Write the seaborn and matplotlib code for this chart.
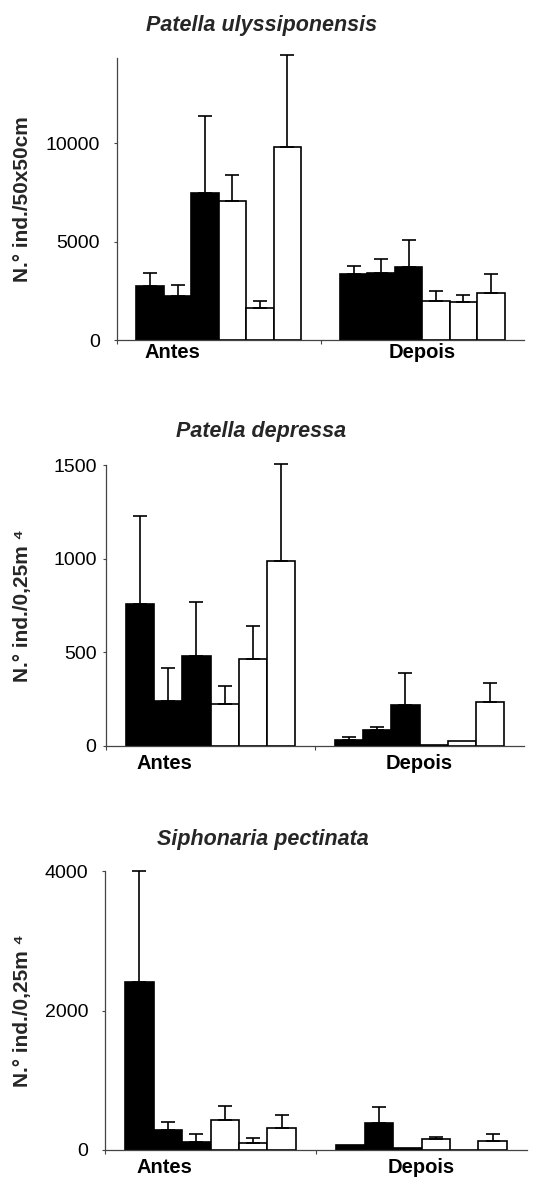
import numpy as np
import pandas as pd
import matplotlib
matplotlib.use("Agg")
import matplotlib.pyplot as plt
import matplotlib.transforms as mtransforms
import seaborn as sns

# ---- data -------------------------------------------------------------
periods = ["Antes", "Depois"]
sites = ["S1", "S2", "S3", "S4", "S5", "S6"]
site_colors = ["black", "black", "black", "white", "white", "white"]

# Patella ulyssiponensis (N.º ind./50x50cm)
ulyss_antes = [2750, 2240, 7490, 7070, 1610, 9780]
ulyss_depois = [3360, 3390, 3730, 2000, 1915, 2410]
ulyss_err_antes = [640, 560, 3870, 1290, 360, 4680]
ulyss_err_depois = [400, 730, 1350, 490, 375, 960]

# Patella depressa (N.º ind./0,25m)
depr_antes = [756, 242, 480, 222, 463, 988]
depr_depois = [32, 85, 217, 8, 25, 237]
depr_err_antes = [472, 173, 289, 98, 176, 517]
depr_err_depois = [18, 18, 171, 0, 0, 98]

# Siphonaria pectinata (N.º ind./0,25m)
siph_antes = [2406, 286, 119, 430, 95, 320]
siph_depois = [72, 391, 35, 158, 5, 127]
siph_err_antes = [1594, 115, 110, 200, 82, 181]
siph_err_depois = [0, 220, 0, 23, 0, 105]

titles = ["Patella ulyssiponensis", "Patella depressa", "Siphonaria pectinata"]
ylabels = ["N.° ind./50x50cm", "N.° ind./0,25m ⁴", "N.° ind./0,25m ⁴"]
yticks = [[0, 5000, 10000], [0, 500, 1000, 1500], [0, 2000, 4000]]
ymax = [14320, 1500, 4000]


def make_frame(antes, depois, err_antes, err_depois):
    rows = []
    for period, vals, errs in (("Antes", antes, err_antes),
                               ("Depois", depois, err_depois)):
        for site, v, e in zip(sites, vals, errs):
            rows.append({"period": period, "site": site, "value": v, "err": e})
    return pd.DataFrame(rows)


frames = [
    make_frame(ulyss_antes, ulyss_depois, ulyss_err_antes, ulyss_err_depois),
    make_frame(depr_antes, depr_depois, depr_err_antes, depr_err_depois),
    make_frame(siph_antes, siph_depois, siph_err_antes, siph_err_depois),
]

# ---- style ------------------------------------------------------------
sns.set_style("ticks")
plt.rcParams["font.family"] = ["Liberation Sans", "DejaVu Sans"]
plt.rcParams["axes.edgecolor"] = "#444444"

W, H = 552, 1181
fig = plt.figure(figsize=(W / 100, H / 100), dpi=100)

# axes boxes in pixels: left, right, top, bottom
boxes = [(117, 524, 58, 340), (106, 524, 465, 746), (105, 527, 871, 1150)]
title_px = [(262, 25), (261, 432), (263, 839)]
ytick_pad = [10, 4.3, 9.4]
xtick_pad = [2.5, 6, 6]

palette = dict(zip(sites, site_colors))

for i, df in enumerate(frames):
    l, r, t, b = boxes[i]
    ax = fig.add_axes([l / W, 1 - b / H, (r - l) / W, (b - t) / H])

    sns.barplot(data=df, x="period", y="value", hue="site",
                order=periods, hue_order=sites, palette=palette,
                width=0.81, gap=0, saturation=1, errorbar=None,
                edgecolor="black", linewidth=1.2, legend=False, ax=ax)

    # upper-only error bars on each bar
    err_lookup = {(row.period, row.site): row.err for row in df.itertuples()}
    for container, site in zip(ax.containers, sites):
        for bar, period in zip(container, periods):
            e = err_lookup[(period, site)]
            if e <= 0:
                continue
            x = bar.get_x() + bar.get_width() / 2
            h = bar.get_height()
            ax.errorbar([x], [h], yerr=[[0], [e]], fmt="none",
                        ecolor="black", elinewidth=1.2, capsize=4.7,
                        capthick=1.2, clip_on=False, zorder=3)

    ax.set_xlim(-0.5, 1.5)
    ax.set_ylim(0, ymax[i])
    ax.set_yticks(yticks[i])
    ax.set_yticklabels([str(v) for v in yticks[i]])
    sns.despine(ax=ax)
    for side in ("left", "bottom"):
        ax.spines[side].set_linewidth(0.9)
        ax.spines[side].set_color("#444444")

    ax.tick_params(axis="y", length=2.5, width=0.8, color="#444444",
                   labelsize=14, pad=ytick_pad[i], labelcolor="black")
    ax.tick_params(axis="x", which="major", length=0, labelsize=14.5,
                   pad=xtick_pad[i], labelcolor="black")
    ax.set_xticks([-0.5, 0.5], minor=True)
    ax.tick_params(axis="x", which="minor", length=3, width=0.8,
                   color="#444444", direction="out")
    for lab in ax.get_xticklabels():
        lab.set_fontweight("bold")
    # the "Antes" label sits left of its group
    antes_lab = ax.get_xticklabels()[0]
    antes_lab.set_transform(antes_lab.get_transform() +
                            mtransforms.ScaledTranslation(-46 / 100, 0,
                                                          fig.dpi_scale_trans))

    ax.set_xlabel("")
    ax.set_ylabel(ylabels[i], fontsize=15, fontweight="bold", va="center")
    ax.yaxis.set_label_coords(
        23 / W, 0.5,
        transform=mtransforms.blended_transform_factory(fig.transFigure,
                                                        ax.transAxes))

    tx, ty = title_px[i]
    fig.text(tx / W, 1 - ty / H, titles[i], ha="center", va="center",
             fontsize=15.5, fontweight="bold", fontstyle="italic")

fig.savefig("out.png", dpi=100)
